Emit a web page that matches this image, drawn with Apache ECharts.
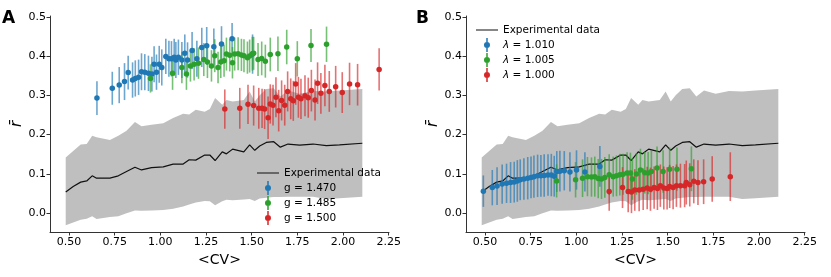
<!DOCTYPE html>
<html><head><meta charset="utf-8">
<script src="https://cdn.jsdelivr.net/npm/echarts@6/dist/echarts.min.js"></script>
<style>html,body{margin:0;padding:0;background:#fff}#c{width:831px;height:277px}</style>
</head><body><div id="c"></div>
<script>
// ---- Experimental data (shared by both panels) ----
const expX     = [0.482,0.523,0.564,0.597,0.627,0.651,0.724,0.770,0.815,0.861,0.897,0.952,1.016,1.070,1.125,1.158,1.194,1.243,1.271,1.300,1.339,1.362,1.396,1.457,1.489,1.517,1.544,1.580,1.621,1.657,1.699,1.763,1.836,1.909,1.981,2.106];
const expMean  = [0.054,0.068,0.079,0.082,0.095,0.089,0.089,0.095,0.106,0.117,0.110,0.116,0.118,0.125,0.125,0.136,0.135,0.148,0.148,0.134,0.156,0.151,0.163,0.156,0.174,0.160,0.171,0.180,0.182,0.168,0.176,0.173,0.176,0.172,0.174,0.178];
const expUpper = [0.142,0.158,0.175,0.176,0.197,0.193,0.186,0.197,0.210,0.232,0.221,0.225,0.229,0.242,0.253,0.251,0.263,0.258,0.265,0.293,0.276,0.288,0.284,0.288,0.310,0.284,0.300,0.316,0.318,0.297,0.312,0.304,0.311,0.310,0.312,0.316];
const expLower = [-0.031,-0.024,-0.017,-0.014,-0.008,-0.015,-0.010,-0.008,0.000,0.007,0.006,0.007,0.008,0.011,0.017,0.022,0.027,0.031,0.030,0.020,0.030,0.034,0.033,0.035,0.036,0.031,0.037,0.039,0.041,0.041,0.042,0.042,0.042,0.036,0.038,0.042];

// ---- ticks ----
const xTicks = [0.5,0.75,1.0,1.25,1.5,1.75,2.0,2.25];
const yTicks = [0.0,0.1,0.2,0.3,0.4,0.5];

// ---- Panel A: g series ----
const aNames = ['g = 1.470','g = 1.485','g = 1.500'];
const a1X = [0.653,0.737,0.775,0.804,0.824,0.848,0.863,0.881,0.897,0.915,0.935,0.954,0.966,0.979,0.994,1.008,1.030,1.047,1.061,1.076,1.085,1.099,1.118,1.134,1.149,1.174,1.200,1.227,1.254,1.293,1.335,1.393,1.505];
const a1Y = [0.293,0.318,0.326,0.335,0.358,0.339,0.343,0.346,0.360,0.359,0.356,0.354,0.379,0.359,0.379,0.371,0.399,0.393,0.393,0.397,0.390,0.397,0.390,0.407,0.390,0.414,0.393,0.422,0.426,0.424,0.431,0.444,0.405];
const a1E = [0.043,0.042,0.046,0.047,0.043,0.045,0.046,0.045,0.047,0.046,0.045,0.044,0.046,0.045,0.047,0.046,0.045,0.046,0.045,0.047,0.046,0.045,0.046,0.048,0.045,0.047,0.046,0.050,0.048,0.046,0.045,0.040,0.050];
const a2X = [0.946,1.067,1.118,1.143,1.165,1.185,1.209,1.238,1.258,1.280,1.298,1.316,1.331,1.349,1.362,1.380,1.395,1.407,1.426,1.444,1.458,1.477,1.489,1.504,1.511,1.535,1.555,1.575,1.602,1.644,1.692,1.750,1.825,1.910];
const a2Y = [0.343,0.356,0.371,0.354,0.375,0.379,0.382,0.391,0.385,0.375,0.401,0.371,0.385,0.388,0.405,0.402,0.383,0.405,0.406,0.403,0.401,0.396,0.400,0.406,0.407,0.391,0.394,0.387,0.404,0.406,0.423,0.393,0.427,0.430];
const a2E = [0.036,0.042,0.040,0.040,0.040,0.041,0.040,0.042,0.041,0.040,0.042,0.040,0.041,0.041,0.042,0.041,0.040,0.042,0.042,0.041,0.042,0.041,0.042,0.043,0.042,0.042,0.043,0.042,0.043,0.044,0.044,0.045,0.042,0.045];
const a3X = [1.353,1.435,1.480,1.511,1.539,1.557,1.571,1.590,1.602,1.617,1.633,1.648,1.664,1.681,1.697,1.714,1.728,1.741,1.756,1.770,1.792,1.810,1.827,1.847,1.861,1.879,1.901,1.925,1.960,1.996,2.036,2.080,2.198];
const a3Y = [0.265,0.267,0.277,0.274,0.267,0.267,0.265,0.243,0.278,0.275,0.295,0.261,0.287,0.275,0.310,0.291,0.286,0.329,0.295,0.291,0.299,0.294,0.312,0.288,0.331,0.305,0.325,0.310,0.322,0.307,0.329,0.327,0.366];
const a3E = [0.050,0.052,0.050,0.051,0.052,0.050,0.051,0.054,0.050,0.052,0.051,0.053,0.051,0.052,0.051,0.052,0.051,0.053,0.052,0.051,0.052,0.051,0.053,0.052,0.053,0.052,0.053,0.052,0.053,0.052,0.054,0.053,0.054];

// ---- Panel B: lambda series ----
const bNames = ['λ = 1.010','λ = 1.005','λ = 1.000'];
const b1X = [0.491,0.540,0.566,0.594,0.618,0.640,0.660,0.677,0.693,0.713,0.734,0.752,0.768,0.788,0.806,0.824,0.845,0.863,0.879,0.893,0.910,0.934,0.965,1.001,1.047,1.129];
const b1Y = [0.056,0.065,0.069,0.074,0.076,0.078,0.079,0.082,0.085,0.087,0.089,0.091,0.093,0.095,0.095,0.096,0.097,0.097,0.094,0.106,0.107,0.108,0.105,0.110,0.105,0.119];
const b1E = [0.040,0.045,0.048,0.050,0.050,0.052,0.052,0.053,0.052,0.053,0.054,0.053,0.054,0.054,0.053,0.054,0.053,0.054,0.052,0.052,0.052,0.050,0.050,0.050,0.050,0.052];
const b2X = [0.892,0.996,1.034,1.061,1.083,1.101,1.120,1.138,1.156,1.180,1.202,1.220,1.238,1.256,1.278,1.296,1.307,1.329,1.351,1.375,1.393,1.411,1.442,1.475,1.511,1.551,1.630];
const b2Y = [0.082,0.085,0.089,0.093,0.092,0.093,0.088,0.087,0.091,0.098,0.093,0.095,0.098,0.099,0.102,0.102,0.087,0.100,0.110,0.103,0.102,0.106,0.115,0.106,0.112,0.112,0.113];
const b2E = [0.042,0.045,0.048,0.050,0.050,0.051,0.050,0.051,0.052,0.052,0.051,0.052,0.053,0.052,0.053,0.052,0.053,0.053,0.054,0.053,0.054,0.053,0.055,0.054,0.055,0.055,0.057];
const b3X = [1.180,1.253,1.284,1.302,1.320,1.344,1.366,1.388,1.406,1.426,1.444,1.460,1.479,1.497,1.511,1.530,1.548,1.570,1.593,1.602,1.621,1.643,1.666,1.697,1.744,1.843];
const b3Y = [0.055,0.065,0.055,0.054,0.059,0.059,0.061,0.064,0.061,0.065,0.063,0.070,0.064,0.063,0.068,0.065,0.070,0.070,0.070,0.078,0.072,0.081,0.078,0.080,0.087,0.093];
const b3E = [0.049,0.052,0.053,0.054,0.053,0.054,0.053,0.054,0.055,0.054,0.055,0.054,0.055,0.054,0.055,0.055,0.054,0.056,0.055,0.056,0.055,0.056,0.057,0.057,0.058,0.062];

const colors = ['#1f77b4','#2ca02c','#d62728'];
const FONT = 'DejaVu Sans';

function bandSeries(ai){
  return {type:'custom', xAxisIndex:ai, yAxisIndex:ai, silent:true, z:1,
    data:[[expX[0], expLower[0]]],
    renderItem:function(params, api){
      const pts=[];
      for(let i=0;i<expX.length;i++) pts.push(api.coord([expX[i], expUpper[i]]));
      for(let i=expX.length-1;i>=0;i--) pts.push(api.coord([expX[i], expLower[i]]));
      return {type:'polygon', shape:{points:pts}, style:{fill:'#bfbfbf'}};
    }};
}
function meanSeries(ai){
  return {type:'line', name:'Experimental data', xAxisIndex:ai, yAxisIndex:ai, z:2,
    symbol:'none', silent:true, data:expX.map((x,i)=>[x, expMean[i]]),
    lineStyle:{color:'#111', width:1.2}, itemStyle:{color:'#111'}};
}
function errSeries(ai, X, Y, E, col){
  return {type:'custom', xAxisIndex:ai, yAxisIndex:ai, z:3, silent:true,
    data:X.map((x,i)=>[x, Y[i], E[i]]),
    encode:{x:0, y:1},
    renderItem:function(params, api){
      const x=api.value(0), y=api.value(1), e=api.value(2);
      const p1=api.coord([x, y-e]), p2=api.coord([x, y+e]);
      return {type:'line', shape:{x1:p1[0], y1:p1[1], x2:p2[0], y2:p2[1]},
        style:{stroke:col, lineWidth:1.6, opacity:0.65}};
    }};
}
function ptSeries(ai, name, X, Y, col){
  return {type:'scatter', name:name, xAxisIndex:ai, yAxisIndex:ai, z:4, silent:true,
    symbol:'circle', symbolSize:5.5, data:X.map((x,i)=>[x, Y[i]]),
    itemStyle:{color:col, opacity:1}};
}
const errIcon  = 'path://M0,0L0,0ZM22,14L22,14ZM10.25,0H11.75V14H10.25ZM11,4A3,3 0 1 1 10.99,4Z';
const lineIcon = 'path://M0,0L0,0ZM22,14L22,14ZM0,6.4H22V7.6H0Z';

function xAxisCfg(gi){
  return {type:'value', gridIndex:gi, min:0.396, max:2.252,
    name:'<CV>', nameLocation:'middle', nameGap:17,
    nameTextStyle:{fontFamily:FONT, fontSize:14, color:'#000'},
    splitLine:{show:false},
    axisLine:{show:true, onZero:false, lineStyle:{color:'#333', width:1}},
    axisTick:{show:true, length:3.5, customValues:xTicks, lineStyle:{color:'#333'}},
    axisLabel:{customValues:xTicks, margin:5, fontFamily:FONT, fontSize:11, color:'#000',
      formatter:v=>Number(v).toFixed(2)}};
}
function yAxisCfg(gi){
  return {type:'value', gridIndex:gi, min:-0.048, max:0.502,
    name:'r\u0304', nameLocation:'middle', nameGap:22, nameRotate:90,
    nameTextStyle:{fontFamily:FONT, fontSize:15, color:'#000', fontStyle:'italic'},
    splitLine:{show:false},
    axisLine:{show:true, onZero:false, lineStyle:{color:'#333', width:1}},
    axisTick:{show:true, length:3.5, customValues:yTicks, lineStyle:{color:'#333'}},
    axisLabel:{customValues:yTicks, margin:4, fontFamily:FONT, fontSize:11, color:'#000',
      formatter:v=>Number(v).toFixed(1)}};
}

const chart = echarts.init(document.getElementById('c'), null, {renderer:'canvas'});
chart.setOption({
  animation:false,
  backgroundColor:'#fff',
  textStyle:{fontFamily:FONT},
  grid:[
    {left:50, top:16, width:339, height:216},
    {left:466, top:16, width:339, height:216}
  ],
  xAxis:[xAxisCfg(0), xAxisCfg(1)],
  yAxis:[yAxisCfg(0), yAxisCfg(1)],
  legend:[
    {left:257, top:166, padding:0, orient:'vertical', itemWidth:22, itemHeight:14, itemGap:1,
     textStyle:{fontFamily:FONT, fontSize:10.5, color:'#000'},
     data:[{name:'Experimental data', icon:lineIcon}].concat(aNames.map(n=>({name:n, icon:errIcon})))},
    {left:476, top:23, padding:0, orient:'vertical', itemWidth:22, itemHeight:14, itemGap:1,
     textStyle:{fontFamily:FONT, fontSize:10.5, color:'#000',
       rich:{it:{fontFamily:FONT, fontSize:10.5, fontStyle:'italic', color:'#000'}}},
     formatter:n=>n.replace('λ','{it|λ}'),
     data:[{name:'Experimental data', icon:lineIcon}].concat(bNames.map(n=>({name:n, icon:errIcon})))}
  ],
  graphic:[
    {type:'text', left:2, top:10, style:{text:'A', fontFamily:FONT, fontSize:17, fontWeight:'bold', fill:'#000'}},
    {type:'text', left:416, top:10, style:{text:'B', fontFamily:FONT, fontSize:17, fontWeight:'bold', fill:'#000'}}
  ],
  series:[
    bandSeries(0), meanSeries(0),
    errSeries(0,a1X,a1Y,a1E,colors[0]), errSeries(0,a2X,a2Y,a2E,colors[1]), errSeries(0,a3X,a3Y,a3E,colors[2]),
    ptSeries(0,aNames[0],a1X,a1Y,colors[0]), ptSeries(0,aNames[1],a2X,a2Y,colors[1]), ptSeries(0,aNames[2],a3X,a3Y,colors[2]),
    bandSeries(1), meanSeries(1),
    errSeries(1,b1X,b1Y,b1E,colors[0]), errSeries(1,b2X,b2Y,b2E,colors[1]), errSeries(1,b3X,b3Y,b3E,colors[2]),
    ptSeries(1,bNames[0],b1X,b1Y,colors[0]), ptSeries(1,bNames[1],b2X,b2Y,colors[1]), ptSeries(1,bNames[2],b3X,b3Y,colors[2])
  ]
});
</script></body></html>
